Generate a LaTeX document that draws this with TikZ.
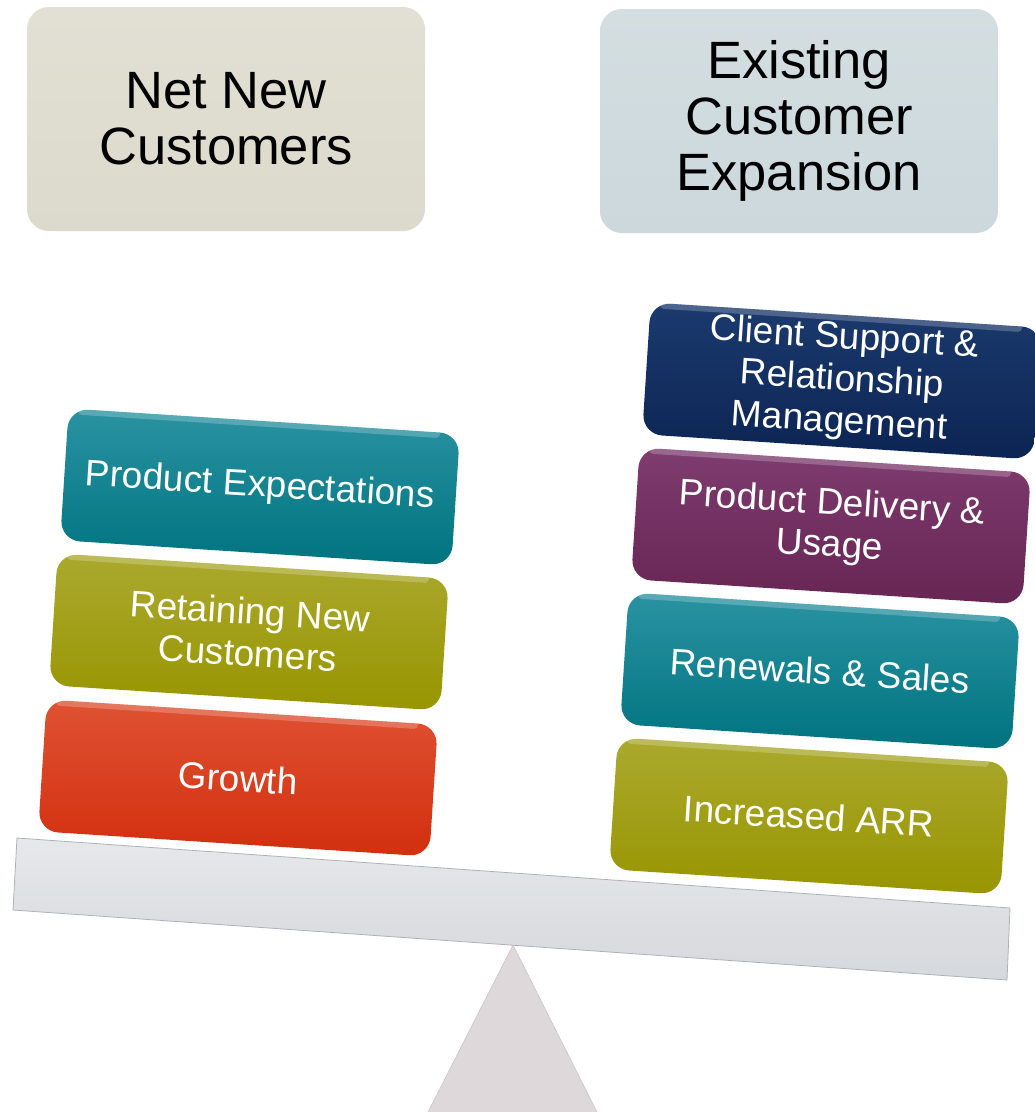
\documentclass[tikz,border=0pt]{standalone}
\usepackage{fontspec}
\setmainfont{Liberation Sans}
\definecolor{hdrA}{HTML}{E2E0D4}
\definecolor{hdrAb}{HTML}{DCDACC}
\definecolor{hdrB}{HTML}{D4DEE1}
\definecolor{hdrBb}{HTML}{CCD8DC}
\definecolor{tealT}{HTML}{2A93A2}
\definecolor{tealB}{HTML}{00737F}
\definecolor{oliveT}{HTML}{ABA92E}
\definecolor{oliveB}{HTML}{979500}
\definecolor{redT}{HTML}{DF5233}
\definecolor{redB}{HTML}{D22F0E}
\definecolor{navyT}{HTML}{1C3A6E}
\definecolor{navyB}{HTML}{0B2453}
\definecolor{purpT}{HTML}{7E3C70}
\definecolor{purpB}{HTML}{672553}
\definecolor{beamT}{HTML}{E6E8EA}
\definecolor{beamB}{HTML}{D5D8DC}
\definecolor{beamE}{HTML}{AEB2B8}
\definecolor{fulc}{HTML}{DED8DA}
\tikzset{
  hdr/.style={rounded corners=22pt, minimum width=398pt, minimum height=224pt,
    inner sep=0pt, align=center, font=\fontsize{52.5}{56}\selectfont, text=black},
  blk/.style={rounded corners=20pt, minimum width=392pt, minimum height=132pt,
    inner sep=0pt, align=center, text=white, font=\fontsize{37}{42}\selectfont,
    rotate=-3.7},
  gloss/.style={path picture={
    \fill[white,opacity=0.22,rounded corners=4pt]
      ([xshift=18pt,yshift=-5pt]path picture bounding box.north west) rectangle
      ([xshift=-18pt,yshift=-13pt]path picture bounding box.north east);}},
}
\begin{document}
\begin{tikzpicture}[x=1pt,y=-1pt]
\useasboundingbox (0,0) rectangle (1035,1112);
% header boxes
\node[hdr, top color=hdrA, bottom color=hdrAb] (nnc) at (226,119) {Net New\\Customers};
\node[hdr, top color=hdrB, bottom color=hdrBb] (ece) at (799,121) {Existing\\Customer\\Expansion};
% fulcrum
\fill[fulc] (513,945) -- (428,1112) -- (597,1112) -- cycle;
\draw[fulc!80!gray, line width=0.6pt] (428,1112) -- (513,945) -- (597,1112);
% beam
\shade[top color=beamT, bottom color=beamB, draw=beamE, line width=0.8pt]
  (17,838) -- (1010,908) -- (1007,980) -- (13,910) -- cycle;
% left stack
\node[blk, gloss, top color=tealT, bottom color=tealB] (pe) at (260,487) {Product Expectations};
\node[blk, gloss, top color=oliveT, bottom color=oliveB] (rnc) at (249,632) {Retaining New\\Customers};
\node[blk, gloss, top color=redT, bottom color=redB] (gr) at (238,778) {Growth};
% right stack
\node[blk, gloss, top color=navyT, bottom color=navyB] (cs) at (842,381) {Client Support \&\\Relationship\\Management};
\node[blk, gloss, top color=purpT, bottom color=purpB] (pd) at (831,526) {Product Delivery \&\\Usage};
\node[blk, gloss, top color=tealT, bottom color=tealB] (rs) at (820,671) {Renewals \& Sales};
\node[blk, gloss, top color=oliveT, bottom color=oliveB] (arr) at (809,816) {Increased ARR};
\end{tikzpicture}
\end{document}
